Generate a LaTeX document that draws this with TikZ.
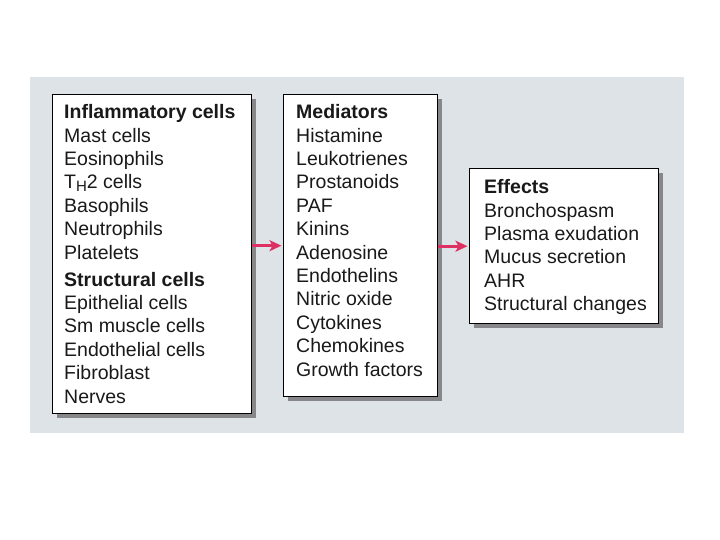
\documentclass[tikz,border=0pt]{standalone}
\usepackage{fontspec}
\setmainfont{Liberation Sans}
\usetikzlibrary{shadows,arrows.meta}
\definecolor{bgpanel}{RGB}{221,227,230}
\definecolor{shadowgray}{RGB}{135,135,138}
\definecolor{arrowred}{RGB}{222,48,98}
\definecolor{txtcol}{RGB}{25,25,25}
\tikzset{
  boxnode/.style={draw=black, line width=1.4pt, fill=white, rectangle, inner sep=0pt, anchor=north west,
    drop shadow={shadow xshift=4pt, shadow yshift=-4pt, fill=shadowgray, opacity=1}},
  listtxt/.style={anchor=north west, inner sep=0pt, align=left, text=txtcol,
    font=\fontsize{19.5}{23.4}\selectfont},
  arr/.style={draw=arrowred, line width=2.7pt, -{Stealth[length=12pt,width=11pt,inset=3pt]}}
}
\newcommand{\thtwo}{T\raisebox{-0.3ex}{\fontsize{15}{15}\selectfont H}2}
\begin{document}
\begin{tikzpicture}[x=1pt,y=-1pt]
\useasboundingbox (0,0) rectangle (720,540);
\fill[white] (0,0) rectangle (720,540);
\fill[bgpanel] (30,77) rectangle (684,433);
% boxes
\node[boxnode, minimum width=199pt, minimum height=319pt] (b1) at (52,94) {};
\node[boxnode, minimum width=154pt, minimum height=302pt] (b2) at (283,94) {};
\node[boxnode, minimum width=189pt, minimum height=155pt] (b3) at (469,168) {};
% texts
\node[listtxt] (t1) at (64,102.1) {\strut\textbf{Inflammatory cells}\\
Mast cells\\ Eosinophils\\ \thtwo\ cells\\ Basophils\\ Neutrophils\\ Platelets\\[3.7pt]
\textbf{Structural cells}\\ Epithelial cells\\ Sm muscle cells\\ Endothelial cells\\ Fibroblast\\ Nerves};
\node[listtxt] (t2) at (296,102.1) {\strut\textbf{Mediators}\\
Histamine\\ Leukotrienes\\ Prostanoids\\ PAF\\ Kinins\\ Adenosine\\ Endothelins\\ Nitric oxide\\ Cytokines\\ Chemokines\\ Growth factors};
\node[listtxt] (t3) at (484,177.1) {\strut\textbf{Effects}\\
Bronchospasm\\ Plasma exudation\\ Mucus secretion\\ AHR\\ Structural changes};
% arrows
\draw[arr] (b1.east |- b2.west) -- ([xshift=-1.5pt]b2.west);
\draw[arr] (b2.east |- b3.west) -- ([xshift=-1.5pt]b3.west);
\end{tikzpicture}
\end{document}
